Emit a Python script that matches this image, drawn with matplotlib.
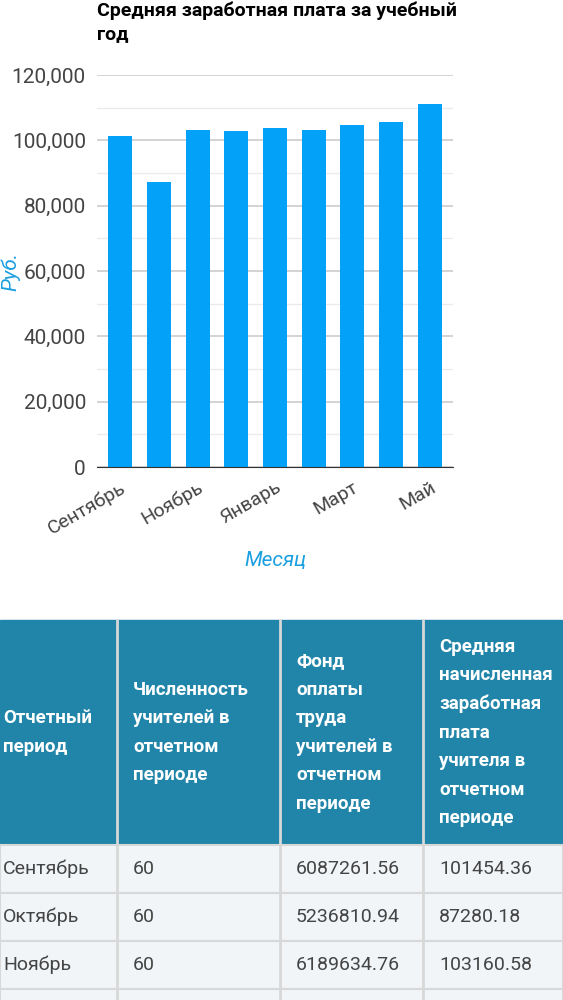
import matplotlib
matplotlib.use("Agg")
import matplotlib.pyplot as plt
from matplotlib.patches import Rectangle
from matplotlib.ticker import MultipleLocator, FuncFormatter

months = ["Сентябрь", "Октябрь", "Ноябрь", "Декабрь", "Январь",
          "Февраль", "Март", "Апрель", "Май"]
salary = [101454.36, 87280.18, 103160.58, 103000, 103800,
          103200, 104700, 105600, 111100]

headers = ["Отчетный\nпериод",
           "Численность\nучителей в\nотчетном\nпериоде",
           "Фонд\nоплаты\nтруда\nучителей в\nотчетном\nпериоде",
           "Средняя\nначисленная\nзаработная\nплата\nучителя в\nотчетном\nпериоде"]
rows = [["Сентябрь", "60", "6087261.56", "101454.36"],
        ["Октябрь", "60", "5236810.94", "87280.18"],
        ["Ноябрь", "60", "6189634.76", "103160.58"],
        ["", "", "", ""]]

plt.rcParams["font.family"] = ["Roboto", "DejaVu Sans"]
W, H = 563, 1000
fig = plt.figure(figsize=(W / 100, H / 100), dpi=100)

ax = fig.add_axes([97 / W, 1 - 467 / H, (453 - 97) / W, (467 - 75) / H])
x = range(len(months))
ax.bar(x, salary, width=0.62, color="#03a1f7")
ax.set_ylim(0, 120000)
ax.set_xlim(-0.6, len(months) - 0.4)
ax.yaxis.set_major_locator(MultipleLocator(20000))
ax.yaxis.set_minor_locator(MultipleLocator(10000))
ax.yaxis.set_major_formatter(FuncFormatter(lambda v, p: f"{int(v):,}"))
ax.grid(axis="y", which="major", color="#cccccc", lw=1.2)
ax.grid(axis="y", which="minor", color="#ebebeb", lw=1)
ax.set_axisbelow(True)
for s in ["top", "right", "left"]:
    ax.spines[s].set_visible(False)
ax.spines["bottom"].set_color("#333333")
ax.tick_params(axis="y", which="both", length=0)
ax.tick_params(axis="y", labelsize=15, labelcolor="#444444", pad=8)
ax.set_xticks(list(x)[::2])
ax.set_xticklabels(months[::2], rotation=30, ha="right", rotation_mode="anchor",
                   fontsize=14, color="#444444")
ax.tick_params(axis="x", length=0, pad=8)
ax.set_xlabel("Месяц", fontsize=15, style="italic", color="#1a9fe0", labelpad=10)
ax.set_ylabel("Руб.", fontsize=15, style="italic", color="#1a9fe0", labelpad=-6)
fig.text(97 / W, 1 - 2 / H, "Средняя заработная плата за учебный\nгод",
         fontsize=14, fontweight="bold", va="top", ha="left", linespacing=1.3)

# table
cols = [0, 117, 280, 423, 563]
head_top, head_bot, row_h = 620, 845, 48
tab = fig.add_axes([0, 0, 1, 1])
tab.set_xlim(0, W)
tab.set_ylim(H, 0)
tab.axis("off")
tab.add_patch(Rectangle((0, head_top), W, head_bot - head_top, color="#2085a8"))
for i, h in enumerate(headers):
    tab.text(cols[i] + (3 if i == 0 else 16), (head_top + head_bot) / 2, h,
             color="white", fontsize=13.5, fontweight="bold", va="center",
             ha="left", linespacing=1.75)
for r, row in enumerate(rows):
    y0 = head_bot + r * row_h
    tab.add_patch(Rectangle((0, y0), W, row_h, facecolor="#f1f5f8",
                            edgecolor="#d8d8d8", lw=1.5))
    for i, v in enumerate(row):
        tab.text(cols[i] + (3 if i == 0 else 16), y0 + row_h / 2, v, fontsize=14,
                 color="#444444", va="center", ha="left")
for c in cols[1:-1]:
    tab.plot([c, c], [head_top, H], color="#d8d8d8", lw=2)

fig.savefig("out.png", dpi=100)
